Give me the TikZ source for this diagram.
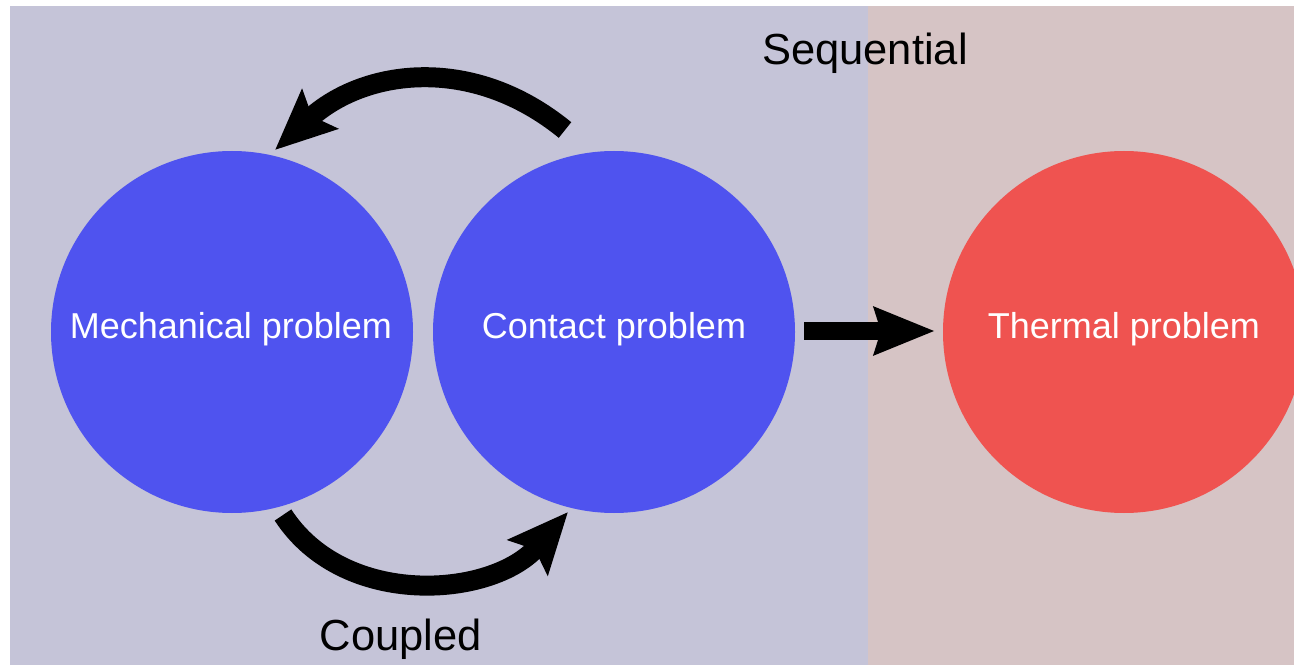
\documentclass[tikz,border=0pt]{standalone}
\usepackage{fontspec}
\setmainfont{Liberation Sans}
\usetikzlibrary{arrows.meta,calc}
\definecolor{bgblue}{RGB}{197,196,216}
\definecolor{bgred}{RGB}{214,196,197}
\definecolor{cblue}{RGB}{79,83,239}
\definecolor{cred}{RGB}{239,83,80}
\tikzset{
  circ/.style={circle,minimum size=362pt,inner sep=0pt,outer sep=0pt},
  ctext/.style={text=white,font=\fontsize{36}{40}\selectfont,anchor=base},
  lbl/.style={text=black,font=\fontsize{43.5}{48}\selectfont,anchor=base},
  bigarrow/.style={line width=20pt,-{Stealth[length=60pt,width=52pt,inset=10pt]}},
  midarrow/.style={line width=18pt,-{Stealth[length=60pt,width=46pt,inset=6pt]}}
}
\begin{document}
\begin{tikzpicture}[x=1pt,y=1pt]
\useasboundingbox (0,0) rectangle (1294,665);
\clip (0,0) rectangle (1294,665);
\fill[white] (0,0) rectangle (1294,665);
\fill[bgblue] (10,0) rectangle (868,659);
\fill[bgred] (868,0) rectangle (1294,659);
\node[circ,fill=cblue] (mech) at (232,333) {};
\node[circ,fill=cblue] (contact) at (614,333) {};
\node[circ,fill=cred] (thermal) at (1124,333) {};
\node[ctext] (mechtxt) at (231,326) {Mechanical problem};
\node[ctext] (contacttxt) at (614,326) {Contact problem};
\node[ctext] (thermaltxt) at (1124,326) {Thermal problem};
\node[lbl] (seq) at (865,600) {Sequential};
\node[lbl] (coup) at (401,15) {Coupled};
\draw[bigarrow] ($(contact.center)+(-49,202)$) .. controls ($(contact.center)+(-142,278)$) and ($(mech.center)+(132,263)$) .. ($(mech.center)+(43,182)$);
\draw[bigarrow] ($(mech.center)+(51,-183)$) .. controls ($(mech.center)+(112,-277)$) and ($(contact.center)+(-122,-266)$) .. ($(contact.center)+(-46,-180)$);
\draw[midarrow] ($(contact.east)+(9,1)$) -- ($(thermal.west)+(-8,1)$);
\end{tikzpicture}
\end{document}
